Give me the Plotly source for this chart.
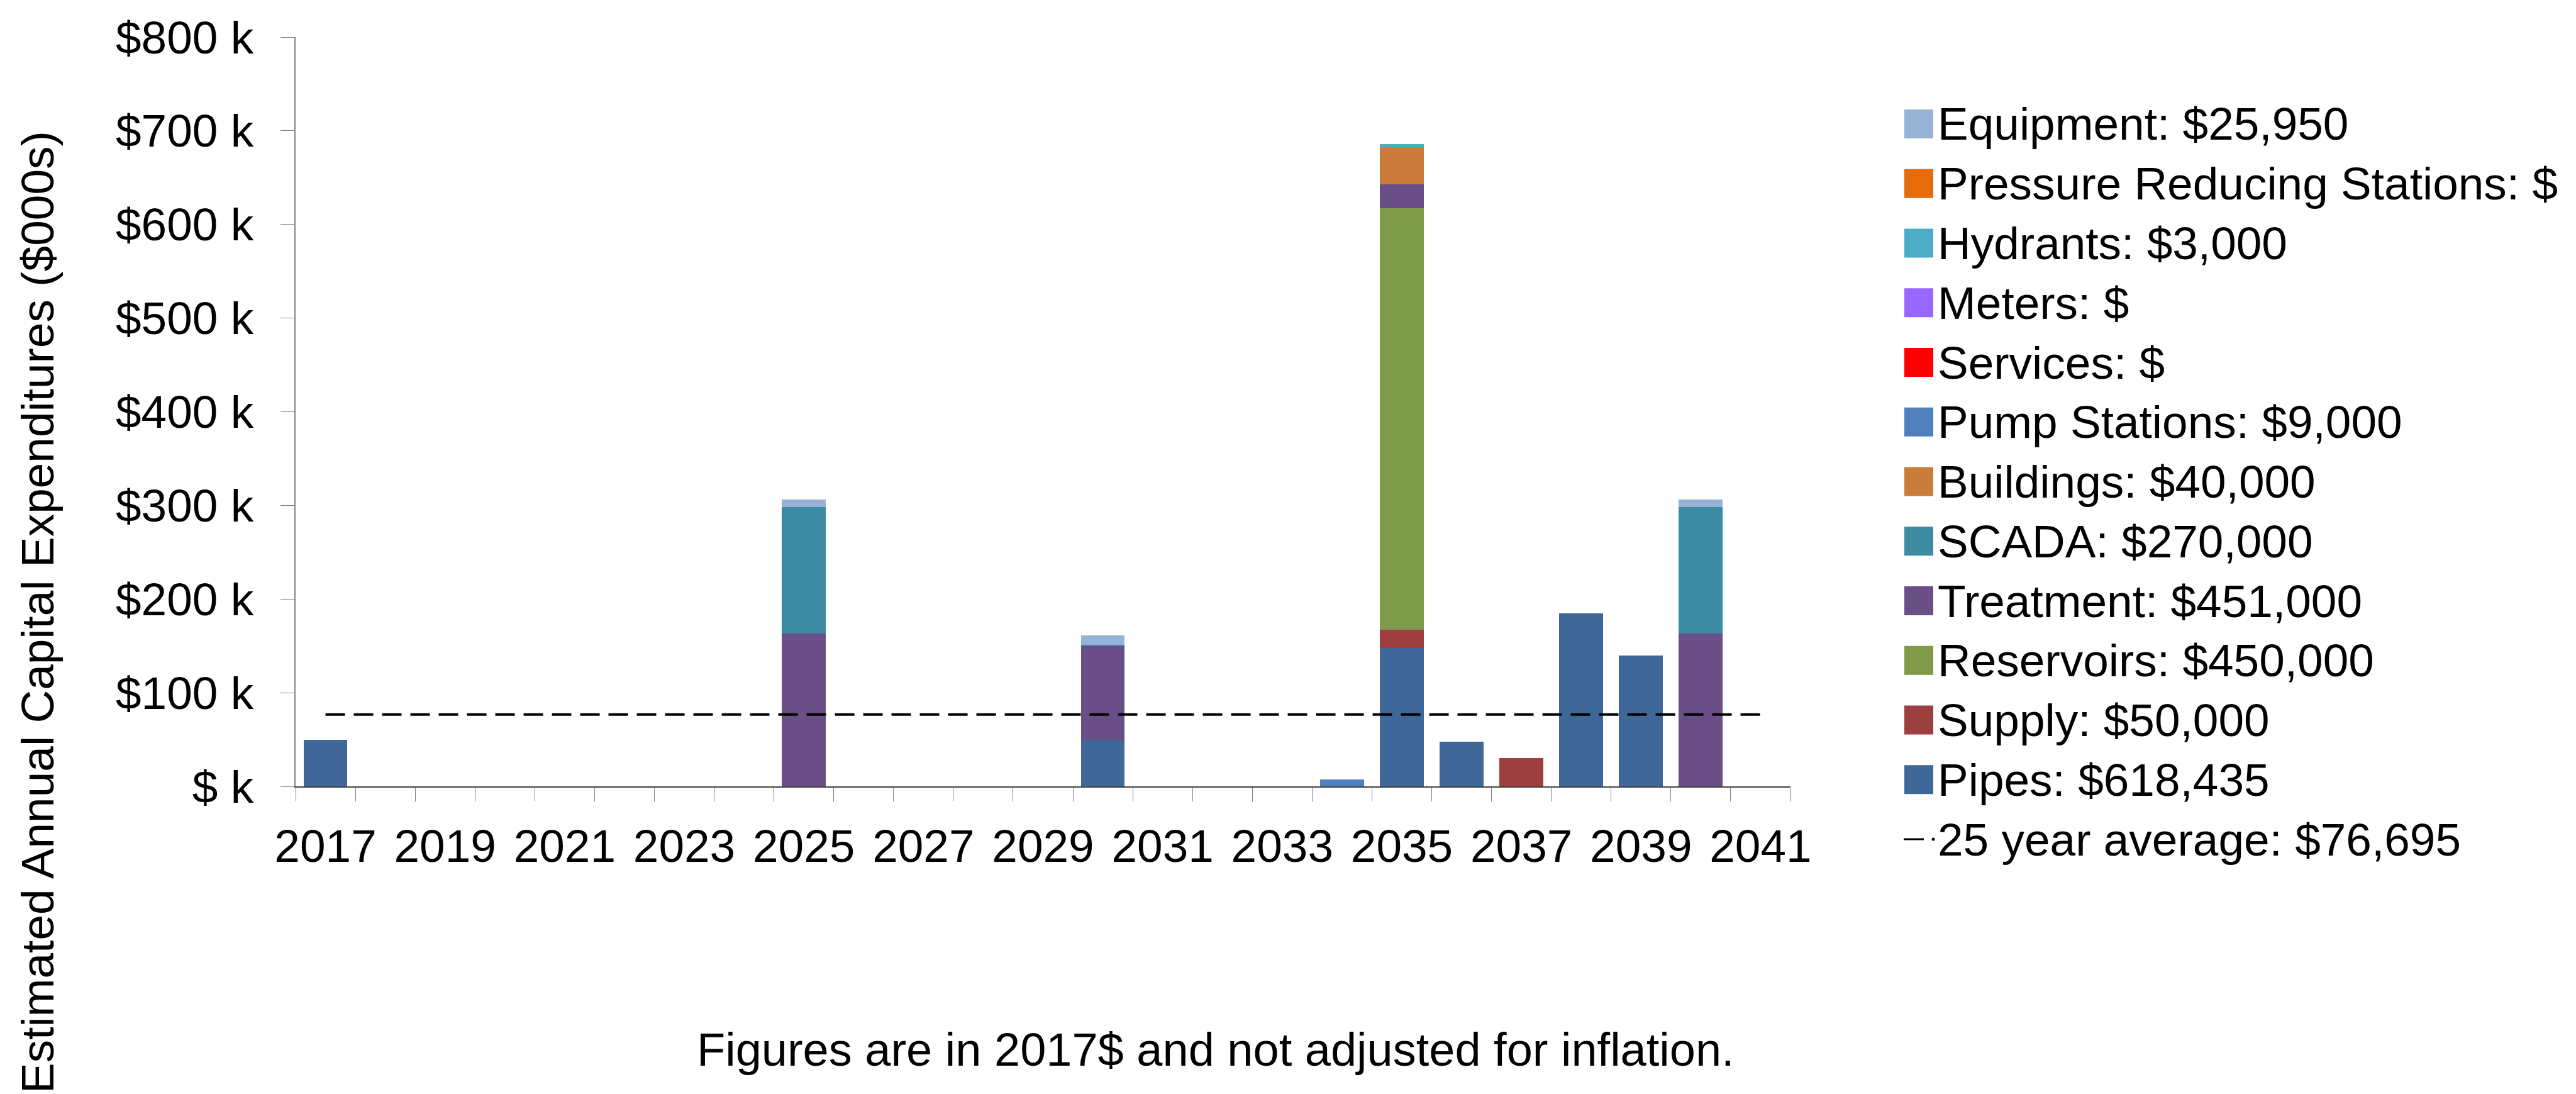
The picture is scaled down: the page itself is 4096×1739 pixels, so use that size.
import plotly.graph_objects as go

# ---------------- data (values in $000s) ----------------
years = list(range(2017, 2042))
tick_years = [2017, 2019, 2021, 2023, 2025, 2027, 2029, 2031, 2033, 2035, 2037, 2039, 2041]

#            17  18 19 20 21 22 23 24 25   26 27 28 29 30    31 32 33 34   35     36    37  38     39     40   41
pipes      = [49.5, 0, 0, 0, 0, 0, 0, 0, 0,   0, 0, 0, 0, 49.5, 0, 0, 0, 0,   147.5, 47.8, 0,  184.5, 139.6, 0,   0]
supply     = [0,    0, 0, 0, 0, 0, 0, 0, 0,   0, 0, 0, 0, 0,    0, 0, 0, 0,   20,    0,    30, 0,     0,     0,   0]
reservoirs = [0,    0, 0, 0, 0, 0, 0, 0, 0,   0, 0, 0, 0, 0,    0, 0, 0, 0,   450,   0,    0,  0,     0,     0,   0]
treatment  = [0,    0, 0, 0, 0, 0, 0, 0, 163, 0, 0, 0, 0, 100,  0, 0, 0, 0,   25,    0,    0,  0,     0,     163, 0]
scada      = [0,    0, 0, 0, 0, 0, 0, 0, 135, 0, 0, 0, 0, 0,    0, 0, 0, 0,   0,     0,    0,  0,     0,     135, 0]
buildings  = [0,    0, 0, 0, 0, 0, 0, 0, 0,   0, 0, 0, 0, 0,    0, 0, 0, 0,   40,    0,    0,  0,     0,     0,   0]
pump_stn   = [0,    0, 0, 0, 0, 0, 0, 0, 0,   0, 0, 0, 0, 1.5,  0, 0, 0, 7.5, 0,     0,    0,  0,     0,     0,   0]
services   = [0] * 25
meters     = [0] * 25
hydrants   = [0,    0, 0, 0, 0, 0, 0, 0, 0,   0, 0, 0, 0, 0,    0, 0, 0, 0,   3,     0,    0,  0,     0,     0,   0]
pressure   = [0] * 25
equipment  = [0,    0, 0, 0, 0, 0, 0, 0, 8,   0, 0, 0, 0, 9.95, 0, 0, 0, 0,   0,     0,    0,  0,     0,     8,   0]

average_25yr = 76.695

series_names = ["Pipes", "Supply", "Reservoirs", "Treatment", "SCADA", "Buildings",
                "Pump Stations", "Services", "Meters", "Hydrants",
                "Pressure Reducing Stations", "Equipment"]
series_values = [pipes, supply, reservoirs, treatment, scada, buildings,
                 pump_stn, services, meters, hydrants, pressure, equipment]
series_colors = ["#3F6899", "#9C3F3E", "#7F9A48", "#694F86", "#3C8BA3", "#CB7B3A",
                 "#4F80BD", "#FF0000", "#9966FF", "#4BACC6", "#E46C0A", "#95B3D7"]

legend_labels = ["Equipment: $25,950", "Pressure Reducing Stations: $", "Hydrants: $3,000",
                 "Meters: $", "Services: $", "Pump Stations: $9,000", "Buildings: $40,000",
                 "SCADA: $270,000", "Treatment: $451,000", "Reservoirs: $450,000",
                 "Supply: $50,000", "Pipes: $618,435"]
average_label = "25 year average: $76,695"

y_tickvals = [0, 100, 200, 300, 400, 500, 600, 700, 800]
y_ticktext = ["$ k", "$100 k", "$200 k", "$300 k", "$400 k", "$500 k", "$600 k", "$700 k", "$800 k"]

y_title = "Estimated Annual Capital Expenditures ($000s)"
footer = "Figures are in 2017$ and not adjusted for inflation."

# ---------------- layout geometry (pixels) ----------------
W, H = 4096, 1739
ML, MR, MT, MB = 470, 1249, 59, 489
PW = W - ML - MR
PH = H - MT - MB
FONT = "Liberation Sans, Arial, sans-serif"
FS = 73


def px_x(px):
    return (px - ML) / PW


def px_y(py):
    return (H - MB - py) / PH


fig = go.Figure()

for name, vals, col in zip(series_names, series_values, series_colors):
    fig.add_trace(go.Bar(x=years, y=vals, name=name, marker=dict(color=col, line=dict(width=0)),
                         showlegend=False))

fig.add_trace(go.Scatter(x=[years[0], years[-1]], y=[average_25yr, average_25yr], mode="lines",
                         line=dict(color="black", width=4, dash="31px,14px"), showlegend=False,
                         name="25 year average"))

shapes = []
annotations = []

# custom legend
row0 = 197
row_step = 94.75
legend_colors = list(reversed(series_colors))
for i, (lab, col) in enumerate(zip(legend_labels, legend_colors)):
    cy = row0 + i * row_step
    shapes.append(dict(type="rect", xref="paper", yref="paper",
                       x0=px_x(3028), x1=px_x(3074), y0=px_y(cy - 23), y1=px_y(cy + 23),
                       fillcolor=col, line=dict(width=0)))
    annotations.append(dict(text=lab, xref="paper", yref="paper", x=px_x(3079), y=px_y(cy),
                            xanchor="left", yanchor="middle", showarrow=False,
                            font=dict(family=FONT, size=FS, color="black")))
cy = row0 + len(legend_labels) * row_step
shapes.append(dict(type="line", xref="paper", yref="paper", x0=px_x(3027), x1=px_x(3059),
                   y0=px_y(cy), y1=px_y(cy), line=dict(color="black", width=3)))
shapes.append(dict(type="circle", xref="paper", yref="paper", x0=px_x(3071.5), x1=px_x(3076.5),
                   y0=px_y(cy - 2.5), y1=px_y(cy + 2.5), fillcolor="black", line=dict(width=0)))
annotations.append(dict(text=average_label, xref="paper", yref="paper", x=px_x(3079), y=px_y(cy),
                        xanchor="left", yanchor="middle", showarrow=False,
                        font=dict(family=FONT, size=FS, color="black")))

# y-axis title
annotations.append(dict(text=y_title, xref="paper", yref="paper", x=px_x(59), y=px_y(973),
                        xanchor="center", yanchor="middle", textangle=-90, showarrow=False,
                        font=dict(family=FONT, size=FS, color="black")))
# footer
annotations.append(dict(text=footer, xref="paper", yref="paper", x=px_x(1933), y=px_y(1668),
                        xanchor="center", yanchor="middle", showarrow=False,
                        font=dict(family=FONT, size=74, color="black")))

fig.update_layout(
    width=W, height=H,
    margin=dict(l=ML, r=MR, t=MT, b=MB, pad=0, autoexpand=False),
    barmode="stack", bargap=0.266,
    plot_bgcolor="white", paper_bgcolor="white",
    showlegend=False,
    font=dict(family=FONT, size=FS, color="black"),
    shapes=shapes, annotations=annotations,
    xaxis=dict(
        range=[2016.5, 2041.5], tickmode="array", tickvals=tick_years,
        ticktext=[str(y) for y in tick_years], ticks="", showgrid=False, zeroline=False,
        showline=True, linecolor="#404040", linewidth=1.5, automargin=False,
        ticklabelstandoff=31,
        minor=dict(ticks="outside", ticklen=22.5, tickwidth=1.4, tickcolor="#808080",
                   tick0=2016.5, dtick=1, showgrid=False),
        tickfont=dict(family=FONT, size=FS, color="black"),
    ),
    yaxis=dict(
        range=[0, 800], tickmode="array", tickvals=y_tickvals, ticktext=y_ticktext,
        ticks="outside", ticklen=22.5, tickwidth=1.4, tickcolor="#808080",
        showgrid=False, zeroline=False, showline=True, linecolor="#868686", linewidth=1.5,
        automargin=False, ticklabelstandoff=28,
        tickfont=dict(family=FONT, size=FS, color="black"),
    ),
)

fig.write_html("out.html")
